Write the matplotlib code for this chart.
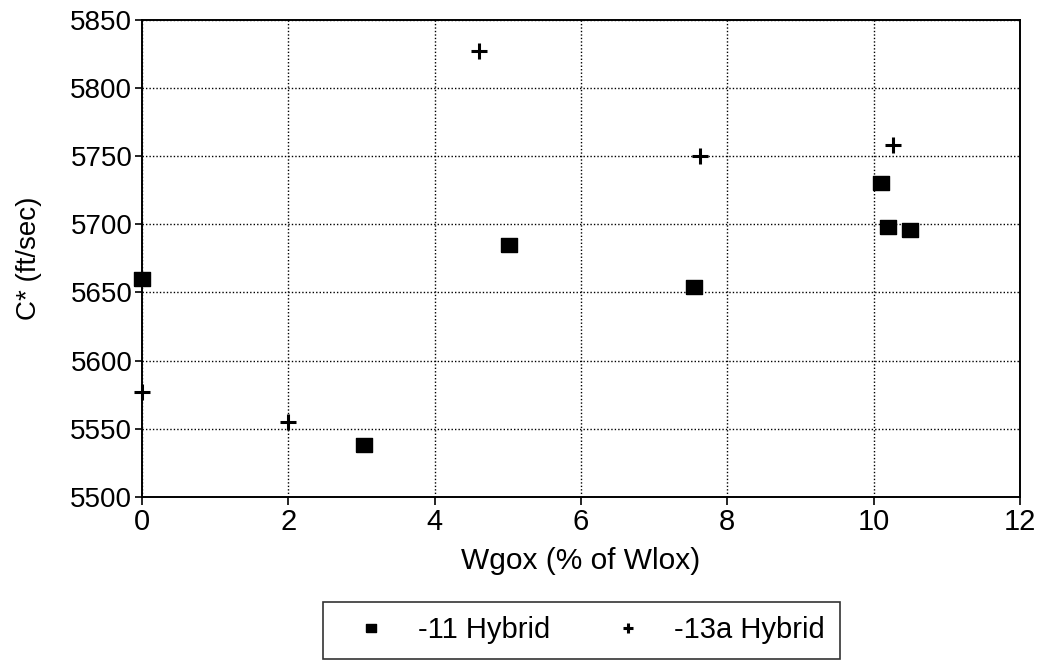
import matplotlib
matplotlib.use("Agg")
import matplotlib.pyplot as plt

# -11 hybrid (filled squares)
x_11 = [0.0, 3.03, 5.01, 7.54, 10.10, 10.19, 10.50]
c_11 = [5660, 5538, 5685, 5654, 5730, 5698, 5696]

# -13a hybrid (plus signs)
x_13a = [0.0, 1.99, 4.61, 7.62, 10.27]
c_13a = [5577, 5555, 5827, 5750, 5758]

x_ticks = [0, 2, 4, 6, 8, 10, 12]
y_ticks = [5500, 5550, 5600, 5650, 5700, 5750, 5800, 5850]

plt.rcParams["font.family"] = ["Liberation Sans", "DejaVu Sans"]

fig = plt.figure(figsize=(10.44, 6.62), dpi=100)
ax = fig.add_axes([0.136, 0.249, 0.841, 0.7215])

rect = [(-1.25, -1), (1.25, -1), (1.25, 1), (-1.25, 1), (-1.25, -1)]
ax.plot(x_11, c_11, linestyle="none", marker=rect, markersize=12,
        color="black", label="-11 Hybrid", clip_on=False, zorder=3)
ax.plot(x_13a, c_13a, linestyle="none", marker="+", markersize=12,
        markeredgewidth=2.2, color="black", label="-13a Hybrid",
        clip_on=False, zorder=3)

ax.set_xlim(0, 12)
ax.set_ylim(5500, 5850)
ax.set_xticks(x_ticks)
ax.set_yticks(y_ticks)
ax.tick_params(axis="x", labelsize=21, direction="out", length=6, width=1.2, pad=1.5)
ax.tick_params(axis="y", labelsize=20, direction="out", length=5, width=1.2, pad=2)
ax.grid(True, color="black", linestyle=(0, (1, 1.5)), linewidth=1.0)
ax.set_axisbelow(True)
for s in ax.spines.values():
    s.set_color("black")
    s.set_linewidth(1.4)

ax.set_xlabel("Wgox (% of Wlox)", fontsize=21.5, labelpad=8)
ax.set_ylabel("C* (ft/sec)", fontsize=20, labelpad=20)

leg = fig.legend(loc="center", bbox_to_anchor=(0.557, 0.048), ncol=2,
                 fontsize=21, frameon=True, fancybox=False, edgecolor="black",
                 borderpad=0.5, handletextpad=0.45, columnspacing=1.5,
                 markerscale=0.65, handlelength=2.3)
leg.get_frame().set_linewidth(1.2)

fig.savefig("out.png", dpi=100)
